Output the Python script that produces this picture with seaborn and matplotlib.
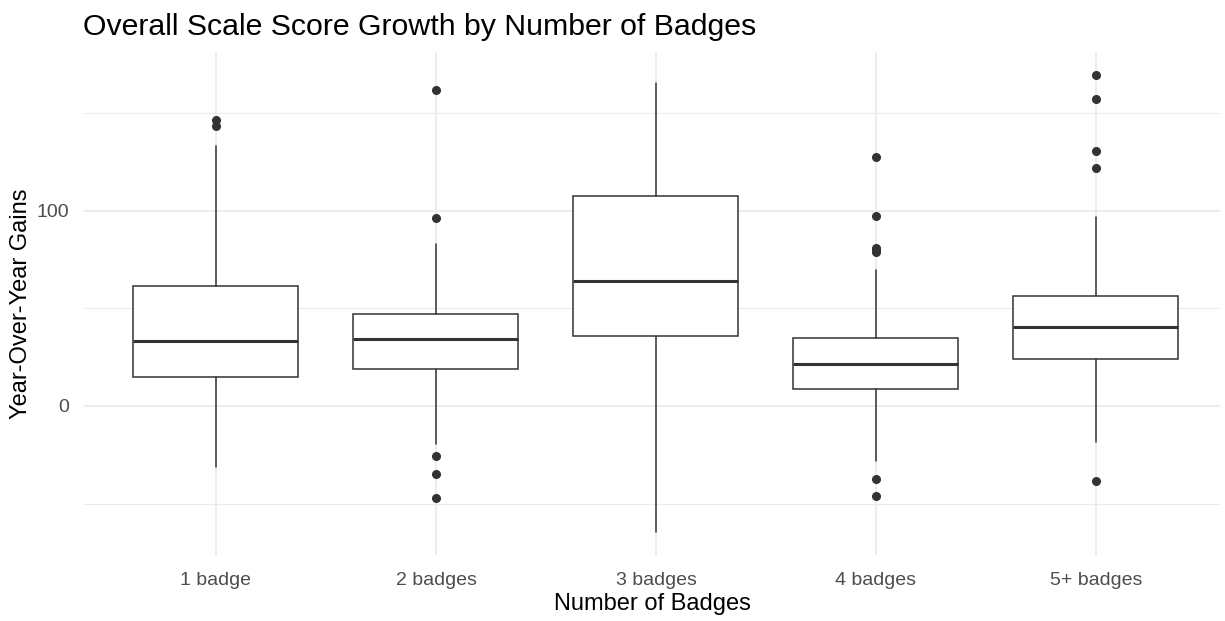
import numpy as np
import matplotlib
matplotlib.use("Agg")
import matplotlib.pyplot as plt
import seaborn as sns

# five-number summaries, plus outlier points
categories = ["1 badge", "2 badges", "3 badges", "4 badges", "5+ badges"]
whisker_low = [-31.4, -19.5, -64.8, -28.2, -18.5]
q1 = [14.9, 19.1, 35.7, 8.5, 24.3]
median = [33.3, 34.5, 64.1, 21.4, 40.5]
q3 = [61.7, 47.0, 107.8, 34.9, 56.6]
whisker_high = [133.3, 82.9, 165.8, 69.7, 96.8]
outliers = [
    [146.7, 143.8],
    [161.9, 96.6, -25.5, -35.0, -47.0],
    [],
    [127.9, 97.4, 80.9, 79.8, 79.1, -37.4, -46.2],
    [169.7, 157.4, 130.6, 121.9, -38.3],
]

sns.set_theme(style="whitegrid")
plt.rcParams["font.family"] = ["Liberation Sans", "DejaVu Sans"]

fig = plt.figure(figsize=(12.25, 6.21), dpi=100)
ax = fig.add_axes([84 / 1225, 66 / 621, 1136 / 1225, 503 / 621])

stats = []
for i, cat in enumerate(categories):
    stats.append(dict(label=cat, whislo=whisker_low[i], q1=q1[i], med=median[i],
                      q3=q3[i], whishi=whisker_high[i], fliers=outliers[i]))

dark = "#333333"
ax.bxp(stats, positions=range(len(categories)), widths=0.75, patch_artist=True,
       showcaps=False,
       boxprops=dict(facecolor="white", edgecolor=dark, linewidth=1.1),
       medianprops=dict(color=dark, linewidth=2.2, solid_capstyle="butt"),
       whiskerprops=dict(color=dark, linewidth=1.1),
       flierprops=dict(marker="o", markerfacecolor=dark, markeredgecolor=dark,
                       markersize=5.5))

ax.set_xlim(-0.6, 4.564)
ax.set_ylim(-76.4, 181.5)
ax.set_yticks([0, 100])
ax.set_yticks([-50, 50, 150], minor=True)
ax.set_xticks(range(len(categories)))
ax.set_xticklabels(categories)

ax.set_facecolor("white")
for s in ax.spines.values():
    s.set_visible(False)
ax.grid(True, which="major", color="#EBEBEB", linewidth=1.3)
ax.grid(True, which="minor", axis="y", color="#EBEBEB", linewidth=0.8)
ax.set_axisbelow(True)
ax.tick_params(axis="both", which="both", length=0, labelsize=14,
               labelcolor="#4D4D4D")
ax.tick_params(axis="x", pad=12)
ax.tick_params(axis="y", pad=11)

ax.set_xlabel("Number of Badges", fontsize=17, color="black", labelpad=3)
ax.set_ylabel("Year-Over-Year Gains", fontsize=17, color="black", labelpad=3)
fig.text(83 / 1225, 1 - 27 / 621, "Overall Scale Score Growth by Number of Badges",
         fontsize=21.8, color="black", va="center", ha="left")

fig.savefig("out.png", dpi=100, facecolor="white")
